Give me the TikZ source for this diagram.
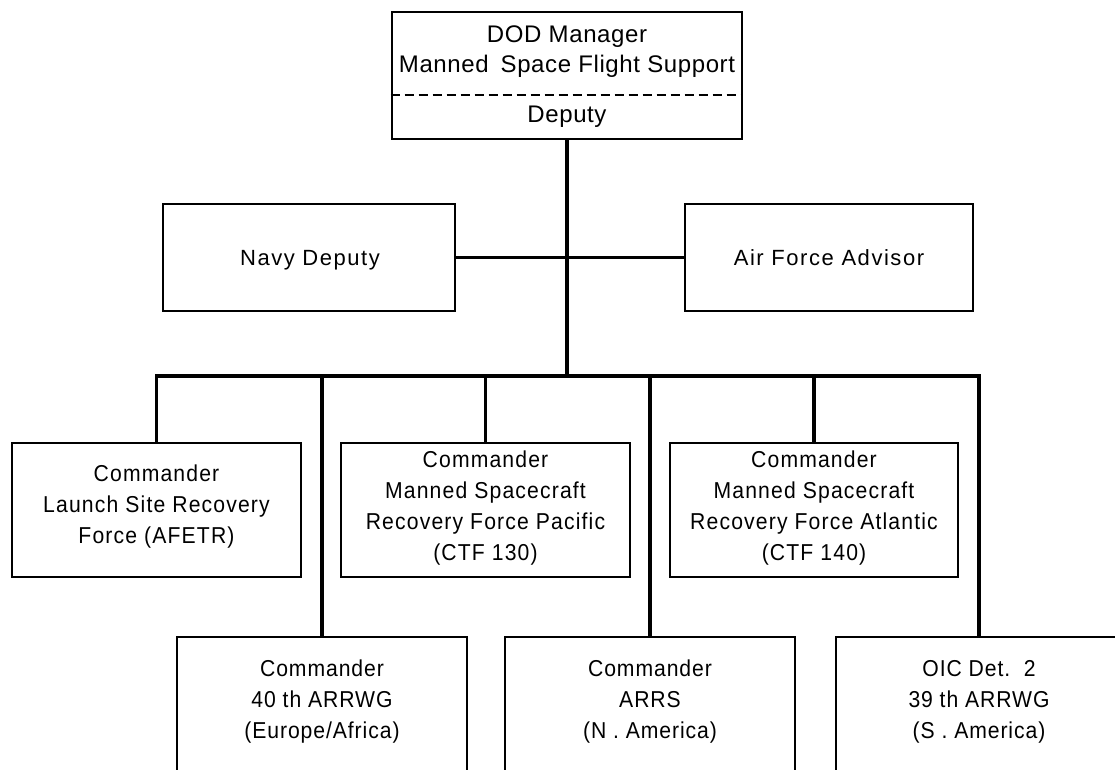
\documentclass[tikz,border=0pt]{standalone}
\usepackage{fontspec}
\setmainfont{Liberation Sans}
\begin{document}
\begin{tikzpicture}[x=1pt,y=-1pt,
  box/.style={draw, line width=2.6pt, rectangle, inner sep=0pt},
  conn/.style={line width=3.2pt},
  toptxt/.style={anchor=base, inner sep=0pt, font=\fontsize{24}{30}\selectfont\addfontfeatures{LetterSpace=2.5}},
  sidetxt/.style={anchor=base, inner sep=0pt, font=\fontsize{22}{31}\selectfont\addfontfeatures{LetterSpace=7}},
  midtxt/.style={align=center, inner sep=0pt, font=\fontsize{23}{31}\selectfont\addfontfeatures{FakeStretch=0.92,LetterSpace=5}},
  lowtxt/.style={align=center, inner sep=0pt, font=\fontsize{23}{31}\selectfont\addfontfeatures{FakeStretch=0.92,LetterSpace=4}}
]
\useasboundingbox (0,0) rectangle (1115,770);
\clip (0,0) rectangle (1115,770);
\fill[white] (0,0) rectangle (1115,770);

% top box
\node[box, minimum width=350pt, minimum height=127pt] (top) at (567,75.5) {};
\draw[line width=2pt, dash pattern=on 9pt off 5pt] (top.west |- 0,95) -- (top.east |- 0,95);
\node[toptxt] (topa) at (567,43) {DOD Manager};
\node[toptxt] (topb) at (567,73) {Manned\hspace{0.5em}Space Flight Support};
\node[toptxt] (topc) at (567,123) {Deputy};

% side boxes
\node[box, minimum width=292pt, minimum height=107pt] (navy) at (309,257.5) {};
\node[sidetxt] (navyt) at (310,265) {Navy Deputy};
\node[box, minimum width=288pt, minimum height=107pt] (af) at (829,257.5) {};
\node[sidetxt] (aft) at (829,265) {Air Force Advisor};

% middle row
\node[box, minimum width=289pt, minimum height=134pt] (launch) at (156.5,510) {};
\node[midtxt] (launcht) at (156.5,507) {Commander\\Launch Site Recovery\\Force (AFETR)};
\node[box, minimum width=289pt, minimum height=134pt] (pac) at (485.5,510) {};
\node[midtxt] (pact) at (485.5,508) {Commander\\Manned Spacecraft\\Recovery Force Pacific\\(CTF 130)};
\node[box, minimum width=288pt, minimum height=134pt] (atl) at (814,510) {};
\node[midtxt] (atlt) at (814,508) {Commander\\Manned Spacecraft\\Recovery Force Atlantic\\(CTF 140)};

% lower row (open at the bottom edge)
\node[box, minimum width=290pt, minimum height=173pt] (e40) at (322,723.5) {};
\node[lowtxt] (e40t) at (322,702) {Commander\\40 th ARRWG\\(Europe/Africa)};
\node[box, minimum width=290pt, minimum height=173pt] (arrs) at (650,723.5) {};
\node[lowtxt] (arrst) at (650,702) {Commander\\ARRS\\(N . America)};
\node[box, minimum width=286pt, minimum height=173pt] (oic) at (979,723.5) {};
\node[lowtxt] (oict) at (979,702) {OIC Det.\ \ 2\\39 th ARRWG\\(S . America)};

% connectors
\coordinate (bus) at (567,376);
\draw[conn] (top.south) -- (bus);
\draw[conn] (navy.east) -- (af.west);
\draw[conn] (launch.north) -- (launch.north |- bus) -- (oic.north |- bus) -- (oic.north);
\draw[conn] (e40.north) -- (e40.north |- bus);
\draw[conn] (pac.north) -- (pac.north |- bus);
\draw[conn] (arrs.north) -- (arrs.north |- bus);
\draw[conn] (atl.north) -- (atl.north |- bus);
\end{tikzpicture}
\end{document}
